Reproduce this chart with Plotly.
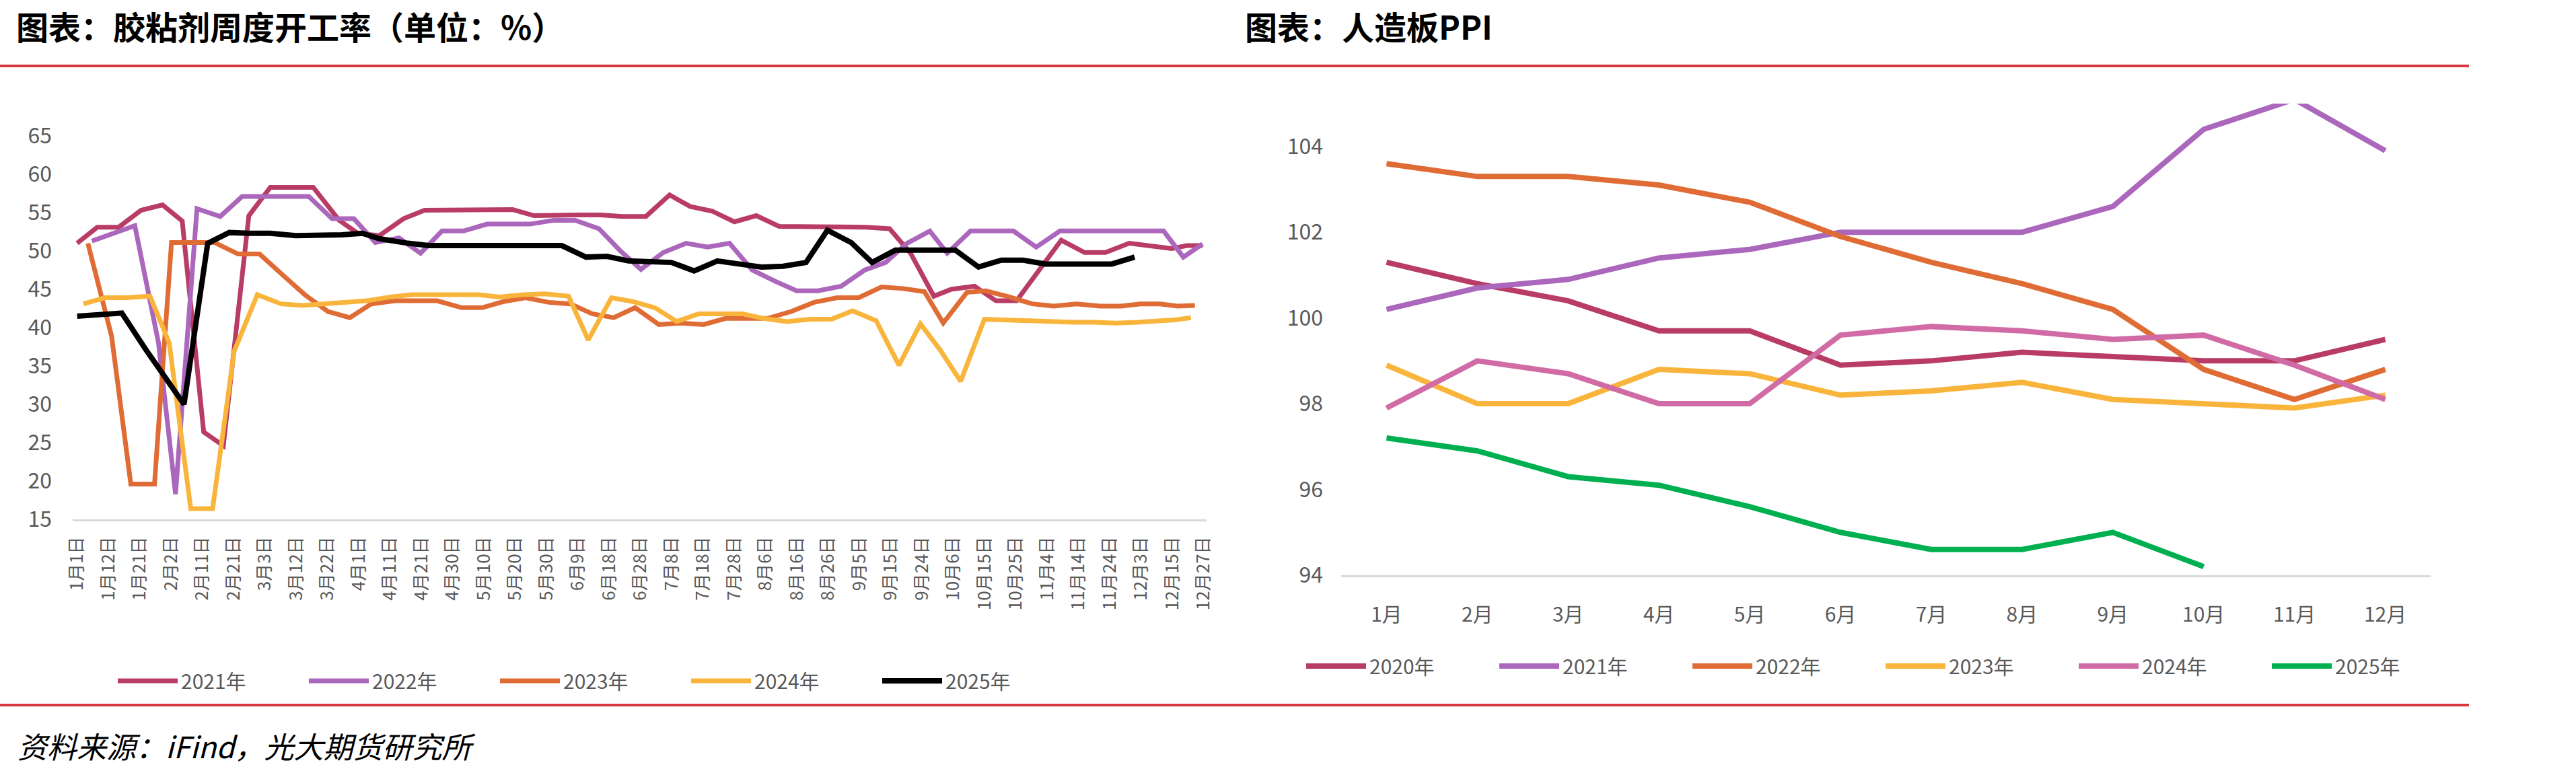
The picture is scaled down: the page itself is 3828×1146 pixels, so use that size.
import plotly.graph_objects as go

W, H = 3828, 1146

# ---------------- left chart: adhesive weekly operating rate (%) ----------------
week_labels = ['1月1日', '1月12日', '1月21日', '2月2日', '2月11日', '2月21日', '3月3日', '3月12日',
               '3月22日', '4月1日', '4月11日', '4月21日', '4月30日', '5月10日', '5月20日', '5月30日',
               '6月9日', '6月18日', '6月28日', '7月8日', '7月18日', '7月28日', '8月6日', '8月16日',
               '8月26日', '9月5日', '9月15日', '9月24日', '10月6日', '10月15日', '10月25日', '11月4日',
               '11月14日', '11月24日', '12月3日', '12月15日', '12月27日']
label_step = 7  # one label every 7 date categories

pos_2021 = [0, 4.5, 9.3, 14.3, 19.1, 23.5, 28.3, 32.7, 38.4, 43.2, 48, 52.8, 58.6, 62.8, 67.6, 73, 77.7,
            82.5, 87.3, 92.4, 97.4, 102.2, 107, 112, 117.1, 121.9, 127.2, 132.5, 137.1, 142, 147, 151.9,
            157, 161.8, 166.5, 171.5, 176.4, 181.7, 186.4, 191.6, 195.5, 200.7, 205.5, 210.1, 220.1,
            225.3, 230, 235.3, 240, 244.8, 248.2, 251.7]
val_2021 = [51.0, 53.1, 53.1, 55.3, 56.0, 53.9, 26.4, 24.6, 54.6, 58.3, 58.3, 58.3, 54.0, 52.3, 52.0, 54.2,
            55.3, 55.3, 55.3, 55.4, 55.4, 54.6, 54.7, 54.7, 54.7, 54.5, 54.5, 57.3, 55.8, 55.2, 53.8, 54.6,
            53.2, 53.2, 53.2, 53.1, 53.1, 52.9, 49.7, 44.1, 45.0, 45.4, 43.5, 43.5, 51.4, 49.8, 49.8, 51.0,
            50.7, 50.3, 50.7, 50.7]

pos_2022 = [3.3, 12.9, 18.2, 22, 26.8, 32, 36.9, 41.7, 46.8, 51.8, 57, 61.9, 66.7, 72, 76.8, 81.6, 86.4,
            91.7, 96.5, 101.3, 106.6, 111.4, 116.7, 121.5, 126.1, 131.1, 136.2, 141, 145.9, 151, 156.3,
            160.9, 165.7, 170.9, 176.1, 180.8, 185.6, 190.7, 194.6, 199.8, 204.6, 209.4, 214.5, 219.8,
            224.6, 229.3, 233.8, 238.3, 243, 247.4, 251.7]
val_2022 = [51.3, 53.3, 38.0, 18.3, 55.5, 54.5, 57.1, 57.1, 57.1, 57.1, 54.2, 54.2, 51.1, 51.7, 49.7, 52.6,
            52.6, 53.5, 53.5, 53.5, 54.0, 54.0, 52.9, 50.0, 47.6, 49.8, 51.0, 50.5, 51.0, 47.5, 46.0, 44.8,
            44.8, 45.4, 47.5, 48.5, 51.0, 52.6, 49.7, 52.6, 52.6, 52.6, 50.5, 52.6, 52.6, 52.6, 52.6, 52.6,
            52.6, 49.2, 50.9]

pos_2023 = [2.4, 7.7, 12, 17.3, 21.1, 25.9, 30.7, 36, 40.8, 46.1, 50.9, 56.1, 61, 65.8, 71.1, 75.7, 80.5,
            86, 90.6, 95.4, 100.3, 105.5, 110.3, 115.2, 120, 124.8, 130.1, 135, 140.1, 145, 149.8, 154.4,
            159.7, 164.8, 170, 174.8, 179.9, 184.7, 189.5, 193.7, 199, 203.2, 208.5, 213.6, 218.4, 223.5,
            228.8, 233.5, 237.8, 242.2, 246.1, 250]
val_2023 = [51.0, 38.9, 19.6, 19.6, 51.1, 51.1, 51.1, 49.6, 49.6, 46.8, 44.3, 42.1, 41.3, 43.1, 43.5, 43.5,
            43.5, 42.6, 42.6, 43.4, 43.9, 43.3, 43.1, 41.8, 41.3, 42.6, 40.4, 40.6, 40.4, 41.2, 41.2, 41.2,
            42.1, 43.3, 43.9, 43.9, 45.3, 45.1, 44.7, 40.6, 44.6, 44.8, 44.0, 43.1, 42.8, 43.1, 42.8, 42.8,
            43.1, 43.1, 42.8, 42.9]

pos_2024 = [1.4, 6.2, 11, 16.3, 20.6, 25.4, 30.3, 35.1, 40.3, 45.6, 50.4, 55.1, 59.9, 64.7, 70, 74.8, 79.8,
            84.9, 89.7, 94.5, 99.8, 104.6, 109.9, 114.3, 119.5, 124.3, 129.2, 134.1, 139, 143.9, 148.9,
            153.5, 158.8, 163.9, 168.7, 173.4, 178.7, 183.8, 188.6, 193, 197.6, 202.9, 207.9, 212.9,
            217.8, 222.8, 227.6, 232.3, 237.1, 241.3, 245.4, 249.1]
val_2024 = [43.1, 43.9, 43.9, 44.1, 38.0, 16.4, 16.4, 36.9, 44.3, 43.1, 42.9, 43.1, 43.3, 43.5, 44.0, 44.3,
            44.3, 44.3, 44.3, 44.0, 44.3, 44.4, 44.1, 38.4, 43.9, 43.4, 42.6, 40.8, 41.8, 41.8, 41.8, 41.2,
            40.8, 41.1, 41.1, 42.2, 40.9, 35.1, 40.5, 37.1, 33.0, 41.1, 41.0, 40.8, 40.8, 40.7, 40.7, 40.6,
            40.7, 40.8, 41.0, 41.3]

pos_2025 = [0, 5, 10, 15.4, 23.9, 29.2, 34, 38.5, 43.2, 48.9, 54.6, 59.2, 63.8, 67.6, 74, 78.7, 83.5, 88.4,
            93.3, 98.3, 103.1, 108.4, 113.8, 118.5, 123.3, 128.1, 132.9, 138, 143.2, 148, 153.1, 157.9,
            163, 167.8, 173.1, 177.8, 183, 188, 192.4, 196.4, 201.6, 206.7, 211.5, 216.6, 221.6, 226.6,
            231.4, 236.5]
val_2025 = [41.5, 41.7, 41.9, 37.1, 30.0, 51.0, 52.4, 52.3, 52.3, 52.0, 52.0, 52.1, 52.3, 51.6, 51.0, 50.7,
            50.7, 50.7, 50.7, 50.7, 50.7, 50.7, 49.2, 49.3, 48.7, 48.6, 48.5, 47.4, 48.7, 48.3, 47.9, 48.0,
            48.5, 52.7, 51.1, 48.5, 50.1, 50.1, 50.1, 50.1, 47.9, 48.8, 48.8, 48.3, 48.3, 48.3, 48.3, 49.2]

# ---------------- right chart: wood-based panel PPI ----------------
months = ['1月', '2月', '3月', '4月', '5月', '6月', '7月', '8月', '9月', '10月', '11月', '12月']
ppi_2020 = [101.3, 100.8, 100.4, 99.7, 99.7, 98.9, 99.0, 99.2, 99.1, 99.0, 99.0, 99.5]
ppi_2021 = [100.2, 100.7, 100.9, 101.4, 101.6, 102.0, 102.0, 102.0, 102.6, 104.4, 105.1, 103.9]
ppi_2022 = [103.6, 103.3, 103.3, 103.1, 102.7, 101.9, 101.3, 100.8, 100.2, 98.8, 98.1, 98.8]
ppi_2023 = [98.9, 98.0, 98.0, 98.8, 98.7, 98.2, 98.3, 98.5, 98.1, 98.0, 97.9, 98.2]
ppi_2024 = [97.9, 99.0, 98.7, 98.0, 98.0, 99.6, 99.8, 99.7, 99.5, 99.6, 98.9, 98.1]
ppi_2025 = [97.2, 96.9, 96.3, 96.1, 95.6, 95.0, 94.6, 94.6, 95.0, 94.2]

GRAY = '#595959'
FONT = 'Noto Sans CJK SC, Noto Sans, sans-serif'

fig = go.Figure()

left_series = [
    ('2021年', pos_2021, val_2021, '#B83C66', 7),
    ('2022年', pos_2022, val_2022, '#AB67BB', 7),
    ('2023年', pos_2023, val_2023, '#E06C35', 7),
    ('2024年', pos_2024, val_2024, '#F9B53B', 7),
    ('2025年', pos_2025, val_2025, '#000000', 8),
]
for name, xs, ys, col, w in left_series:
    fig.add_trace(go.Scatter(x=xs, y=ys, mode='lines', name=name,
                             line=dict(color=col, width=w),
                             xaxis='x', yaxis='y', legend='legend', hoverinfo='skip'))

right_series = [
    ('2020年', ppi_2020, '#B83C66'),
    ('2021年', ppi_2021, '#AB67BB'),
    ('2022年', ppi_2022, '#E06C35'),
    ('2023年', ppi_2023, '#F9B53B'),
    ('2024年', ppi_2024, '#D16BA5'),
    ('2025年', ppi_2025, '#00B050'),
]
for name, ys, col in right_series:
    fig.add_trace(go.Scatter(x=months[:len(ys)], y=ys, mode='lines', name=name,
                             line=dict(color=col, width=8),
                             xaxis='x2', yaxis='y2', legend='legend2', hoverinfo='skip'))

def fx(p):
    return p / W

def fy(p):
    return 1 - p / H

fig.update_layout(
    template='none',
    width=W, height=H,
    margin=dict(l=0, r=0, t=0, b=0, pad=0, autoexpand=False),
    paper_bgcolor='white', plot_bgcolor='white',
    font=dict(family=FONT, color=GRAY),
    xaxis=dict(domain=[fx(108), fx(1793)], range=[-1, 252.6],
               tickvals=[i * label_step for i in range(len(week_labels))], ticktext=week_labels,
               tickangle=-90, tickfont=dict(size=26, color=GRAY, family=FONT),
               showline=True, linecolor='#D9D9D9', linewidth=3, showgrid=False, zeroline=False,
               ticks='', ticklabelstandoff=12, anchor='y', automargin=False),
    yaxis=dict(domain=[fy(772), fy(202)], range=[15, 65], tickvals=list(range(15, 70, 5)),
               tickfont=dict(size=32, color=GRAY, family=FONT), showline=False, showgrid=False,
               zeroline=False, ticks='', ticklabelstandoff=30, anchor='x', automargin=False),
    xaxis2=dict(domain=[fx(1993), fx(3612)], range=[-0.5, 11.5], type='category',
                categoryorder='array', categoryarray=months,
                tickfont=dict(size=30, color=GRAY, family=FONT), tickangle=0,
                showline=True, linecolor='#D9D9D9', linewidth=3, showgrid=False, zeroline=False,
                ticks='', ticklabelstandoff=30, anchor='y2', automargin=False),
    yaxis2=dict(domain=[fy(855), fy(154)], range=[94, 105], tickvals=list(range(94, 106, 2)),
                tickfont=dict(size=32, color=GRAY, family=FONT), showline=False, showgrid=False,
                zeroline=False, ticks='', ticklabelstandoff=26, anchor='x2', automargin=False),
    legend=dict(orientation='h', x=fx(170), y=fy(1012), xanchor='left', yanchor='middle',
                font=dict(size=30, color=GRAY, family=FONT), itemwidth=89,
                entrywidth=180, entrywidthmode='pixels', bgcolor='rgba(0,0,0,0)',
                borderwidth=0, traceorder='normal'),
    legend2=dict(orientation='h', x=fx(1936), y=fy(990), xanchor='left', yanchor='middle',
                 font=dict(size=30, color=GRAY, family=FONT), itemwidth=89,
                 entrywidth=183, entrywidthmode='pixels', bgcolor='rgba(0,0,0,0)',
                 borderwidth=0, traceorder='normal'),
    showlegend=True,
)

red = '#D7373F'
fig.add_shape(type='line', xref='paper', yref='paper', x0=0, x1=fx(3669), y0=fy(98), y1=fy(98),
              line=dict(color=red, width=4))
fig.add_shape(type='line', xref='paper', yref='paper', x0=0, x1=fx(3669), y0=fy(1048), y1=fy(1048),
              line=dict(color=red, width=4))

fig.add_annotation(text='图表：胶粘剂周度开工率（单位：%）', xref='paper', yref='paper',
                   x=fx(22), y=fy(38), xanchor='left', yanchor='middle', showarrow=False,
                   font=dict(size=48, color='black', family=FONT, weight='bold'))
fig.add_annotation(text='图表：人造板PPI', xref='paper', yref='paper',
                   x=fx(1848), y=fy(38), xanchor='left', yanchor='middle', showarrow=False,
                   font=dict(size=48, color='black', family=FONT, weight='bold'))
fig.add_annotation(text='资料来源：iFind，光大期货研究所', xref='paper', yref='paper',
                   x=fx(24), y=fy(1108), xanchor='left', yanchor='middle', showarrow=False,
                   font=dict(size=44, color='black', family=FONT, style='italic'))

fig.write_html('out.html')
